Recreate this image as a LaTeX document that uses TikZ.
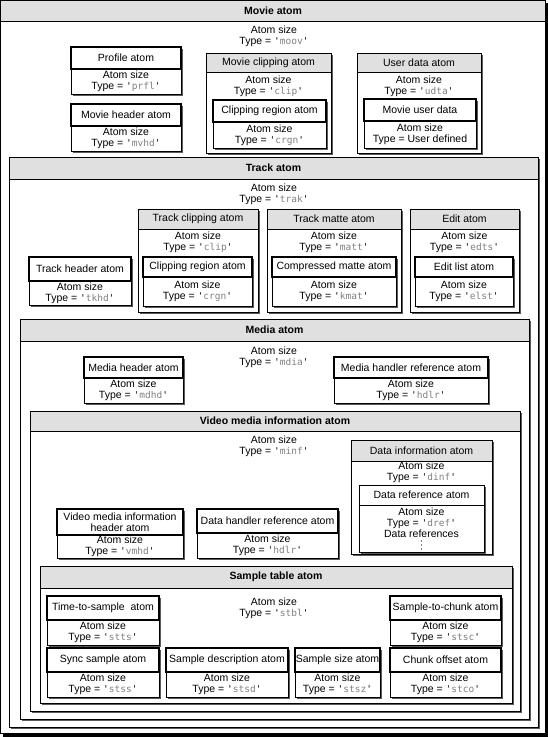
\documentclass[tikz,border=0pt]{standalone}
\usepackage{fontspec}
\setmainfont{Liberation Sans}
\setmonofont{DejaVu Sans Mono}
\definecolor{hdrgray}{HTML}{E0E0E0}
\definecolor{tgray}{HTML}{808080}
\definecolor{shd}{HTML}{5A5A5A}
\tikzset{
  shadowfill/.style={fill=shd},
  thinbox/.style={draw=black, line width=0.9pt},
  thickbox/.style={draw=black, line width=2.5pt},
  lbl/.style={inner sep=0pt, font=\fontsize{10.5}{11}\selectfont, align=center},
  btitle/.style={inner sep=0pt, font=\fontsize{10.5}{11}\selectfont\bfseries, align=center},
}
\newcommand\ty[1]{{\ttfamily\fontsize{9.5}{11}\selectfont '\textcolor{tgray}{#1}'}}
% container: name x1 y1 x2 yh y2 title style
\newcommand\contbox[8]{%
  \fill[shadowfill] (#2+2,#3+2) rectangle (#4+2,#6+2);
  \filldraw[thinbox, fill=white] (#2,#3) rectangle (#4,#6);
  \filldraw[thinbox, fill=hdrgray] (#2,#3) rectangle (#4,#5);
  \node[#8] (#1) at ({(#2+#4)/2},{(#3+#5)/2}) {#7};
}
% leaf: name x1 y1 x2 ym y2 title body
\newcommand\leafbox[8]{%
  \fill[shadowfill] (#2+2,#3+2) rectangle (#4+2,#6+2);
  \filldraw[thinbox, fill=white] (#2,#5) rectangle (#4,#6);
  \filldraw[thickbox, fill=white] (#2,#3) rectangle (#4,#5);
  \node[lbl] (#1-t) at ({(#2+#4)/2},{(#3+#5)/2}) {#7};
  \node[lbl] (#1-b) at ({(#2+#4)/2},{(#5+#6)/2}) {#8};
}
\begin{document}
\begin{tikzpicture}[x=1pt,y=-1pt]
\useasboundingbox (0,0) rectangle (548,737);
% Movie atom
\fill[black] (2.5,2.5) rectangle (548,737);
\filldraw[thinbox, fill=white] (0.5,0.5) rectangle (545.5,733.5);
\filldraw[thinbox, fill=hdrgray] (0.5,0.5) rectangle (545.5,21);
\node[btitle] (movie) at (273,11) {Movie atom};
\node[lbl] (movie-b) at (274,36) {Atom size\\Type = \ty{moov}};
\leafbox{prfl}{71}{47}{181}{69}{94}{Profile atom}{Atom size\\Type = \ty{prfl}}
\leafbox{mvhd}{71}{104}{181}{126}{151}{Movie header atom}{Atom size\\Type = \ty{mvhd}}
\contbox{clip}{206}{53}{331}{72}{153}{Movie clipping atom}{lbl}
\node[lbl] (clip-b) at (268.5,86) {Atom size\\Type = \ty{clip}};
\leafbox{crgn}{213}{100}{326}{122}{148}{Clipping region atom}{Atom size\\Type = \ty{crgn}}
\contbox{udta}{357}{53}{481}{72}{153}{User data atom}{lbl}
\node[lbl] (udta-b) at (419,86) {Atom size\\Type = \ty{udta}};
\leafbox{mud}{364}{99}{476}{121}{148}{Movie user data}{Atom size\\Type = User defined}
% Track atom
\contbox{trak}{9}{157}{538}{179}{727}{Track atom}{btitle}
\node[lbl] (trak-b) at (274,194) {Atom size\\Type = \ty{trak}};
\leafbox{tkhd}{29}{257}{131}{281}{305}{Track header atom}{Atom size\\Type = \ty{tkhd}}
\contbox{tclip}{138}{209}{258}{229}{312}{Track clipping atom}{lbl}
\node[lbl] (tclip-b) at (198,242) {Atom size\\Type = \ty{clip}};
\leafbox{tcrgn}{143}{257}{252}{277}{306}{Clipping region atom}{Atom size\\Type = \ty{crgn}}
\contbox{matt}{267}{209}{401}{229}{312}{Track matte atom}{lbl}
\node[lbl] (matt-b) at (334,242) {Atom size\\Type = \ty{matt}};
\leafbox{kmat}{272}{257}{396}{277}{306}{Compressed matte atom}{Atom size\\Type = \ty{kmat}}
\contbox{edts}{410}{209}{519}{229}{312}{Edit atom}{lbl}
\node[lbl] (edts-b) at (464.5,242) {Atom size\\Type = \ty{edts}};
\leafbox{elst}{415}{257}{513}{277}{306}{Edit list atom}{Atom size\\Type = \ty{elst}}
% Media atom
\contbox{mdia}{20}{319}{529}{341}{719}{Media atom}{btitle}
\node[lbl] (mdia-b) at (274,357) {Atom size\\Type = \ty{mdia}};
\leafbox{mdhd}{84}{357}{183}{378}{403}{Media header atom}{Atom size\\Type = \ty{mdhd}}
\leafbox{hdlr}{334}{357}{488}{378}{403}{Media handler reference atom}{Atom size\\Type = \ty{hdlr}}
% Video media information atom
\contbox{minf}{30}{411}{520}{431}{711}{Video media information atom}{btitle}
\node[lbl] (minf-b) at (274,446) {Atom size\\Type = \ty{minf}};
\contbox{dinf}{351}{440}{492}{461}{554}{Data information atom}{lbl}
\node[lbl] (dinf-b) at (421.5,472) {Atom size\\Type = \ty{dinf}};
\fill[shadowfill] (361,487) rectangle (486,554);
\filldraw[thinbox, fill=white] (359,485) rectangle (484,552);
\draw[thinbox] (359,505) -- (484,505);
\node[lbl] (dref-t) at (421.5,495) {Data reference atom};
\node[lbl] (dref-b) at (421.5,522.5) {Atom size\\Type = \ty{dref}\\Data references};
\foreach \yy in {541,545,549} \fill (421.5,\yy) circle (0.6);
\leafbox{vmhd}{57}{509}{183}{535}{558}{\fontsize{10.5}{10}\selectfont Video media information\\header atom}{Atom size\\Type = \ty{vmhd}}
\leafbox{dhlr}{197}{509}{338}{533}{558}{Data handler reference atom}{Atom size\\Type = \ty{hdlr}}
% Sample table atom
\contbox{stbl}{40}{566}{512}{588}{703}{Sample table atom}{btitle}
\node[lbl] (stbl-b) at (274,608) {Atom size\\Type = \ty{stbl}};
\leafbox{stts}{47}{596}{159}{620}{645}{Time-to-sample~ atom}{Atom size\\Type = \ty{stts}}
\leafbox{stsc}{390}{596}{501}{620}{645}{Sample-to-chunk atom}{Atom size\\Type = \ty{stsc}}
\leafbox{stss}{47}{648}{159}{672}{697}{Sync sample atom}{Atom size\\Type = \ty{stss}}
\leafbox{stsd}{166}{648}{288}{672}{697}{Sample description atom}{Atom size\\Type = \ty{stsd}}
\leafbox{stsz}{295}{648}{380}{672}{697}{Sample size atom}{Atom size\\Type = \ty{stsz}}
\leafbox{stco}{390}{648}{501}{672}{697}{Chunk offset atom}{Atom size\\Type = \ty{stco}}
\end{tikzpicture}
\end{document}
